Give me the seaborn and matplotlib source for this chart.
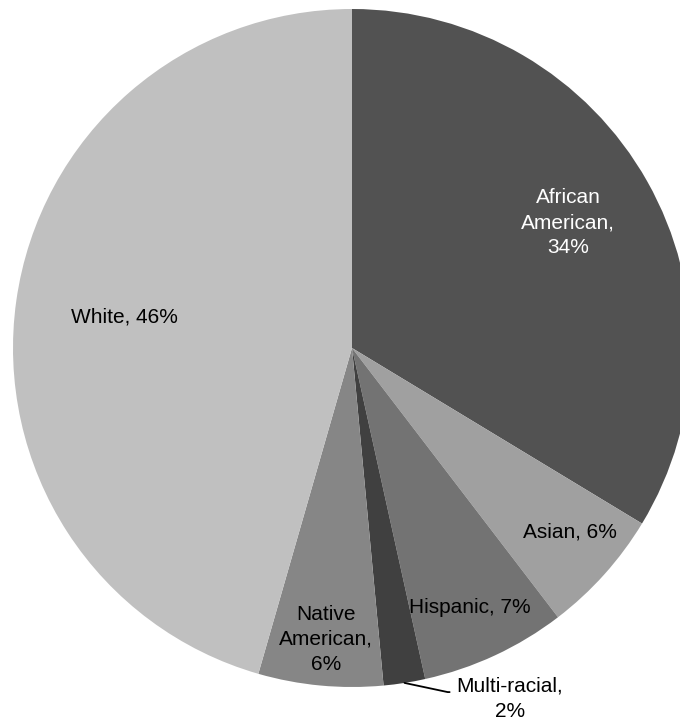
import numpy as np
import matplotlib
matplotlib.use("Agg")
import matplotlib.pyplot as plt
import seaborn as sns

sns.set_theme(style="white")
plt.rcParams['font.family'] = ['Liberation Sans', 'DejaVu Sans']

categories = ["African American", "Asian", "Hispanic", "Multi-racial", "Native American", "White"]
values = [34, 6, 7, 2, 6, 46]
label_texts = ["African\nAmerican,\n34%", "Asian, 6%", "Hispanic, 7%", "Multi-racial,\n2%",
               "Native\nAmerican,\n6%", "White, 46%"]
colors = ["#525252", "#a0a0a0", "#737373", "#404040", "#868686", "#c0c0c0"]
text_colors = ["white", "black", "black", "black", "black", "black"]
# label centres in data units (pie radius = 1)
label_pos = [(0.638, 0.370), (0.643, -0.544), (0.347, -0.765), (0.465, -1.035),
             (-0.076, -0.859), (-0.672, 0.091)]

W, H = 680, 721
fig = plt.figure(figsize=(W / 100, H / 100), dpi=100)
cx, cy, R = 352, 348, 339
ax = fig.add_axes([(cx - R) / W, (H - cy - R) / H, 2 * R / W, 2 * R / H])

wedges, _ = ax.pie(values, colors=colors, startangle=90, counterclock=False, radius=1,
                   wedgeprops=dict(linewidth=0, antialiased=True), frame=False)
ax.set_xlim(-1, 1)
ax.set_ylim(-1, 1)
ax.axis("off")

for t, c, p in zip(label_texts, text_colors, label_pos):
    ax.text(p[0], p[1], t, color=c, ha="center", va="center", fontsize=15,
            multialignment="center", linespacing=1.4)

# leader line for Multi-racial
w = wedges[3]
mid = np.deg2rad((w.theta1 + w.theta2) / 2)
edge = (np.cos(mid), np.sin(mid))
ax.annotate("", xy=edge, xytext=(0.288, -1.015),
            arrowprops=dict(arrowstyle="-", color="black", lw=1.3,
                            connectionstyle="angle,angleA=0,angleB=-12,rad=0",
                            shrinkA=0, shrinkB=0))

fig.savefig("out.png", dpi=100)
